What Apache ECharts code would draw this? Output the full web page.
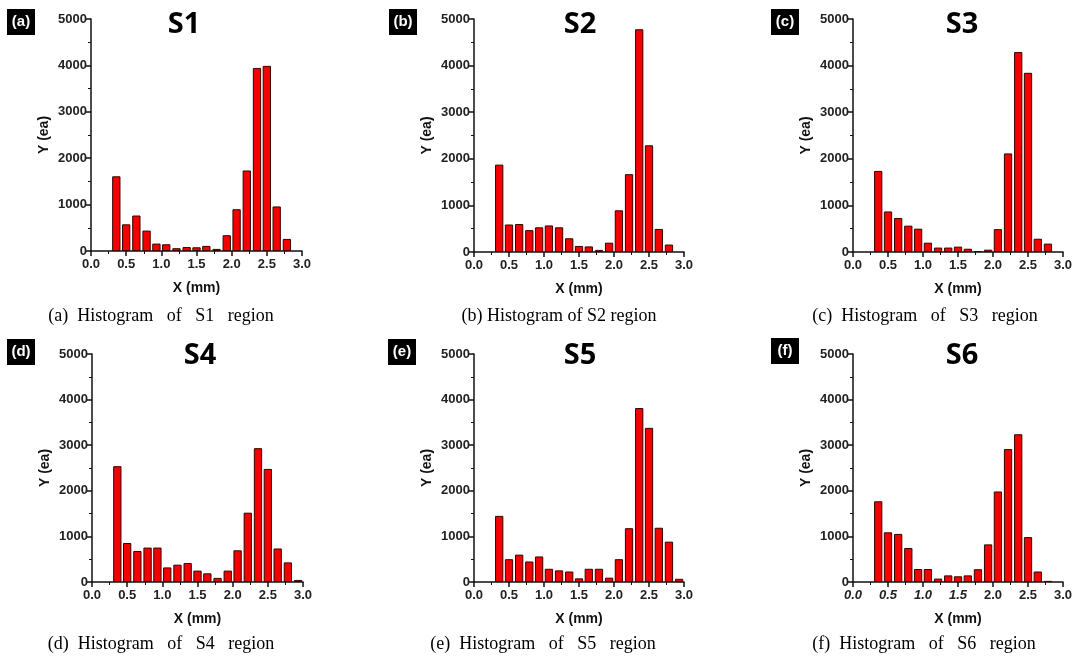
<!DOCTYPE html>
<html>
<head>
<meta charset="utf-8">
<script src="https://cdn.jsdelivr.net/npm/echarts@6/dist/echarts.min.js"></script>
<style>
html,body{margin:0;padding:0;background:#fff;}
#chart{width:1079px;height:661px;}
</style>
</head>
<body>
<div id="chart"></div>
<script>
// ---- data ----
const binCenters = [0.36, 0.50, 0.645, 0.79, 0.93, 1.07, 1.215, 1.36, 1.50, 1.64, 1.785, 1.93, 2.07, 2.215, 2.36, 2.50, 2.64, 2.785, 2.93];
const s1 = [1610, 575, 765, 440, 160, 145, 60, 85, 80, 110, 45, 340, 900, 1735, 3945, 3990, 960, 260];
const s2 = [1875, 590, 600, 470, 530, 570, 530, 295, 130, 120, 45, 200, 895, 1670, 4780, 2290, 495, 160];
const s3 = [1740, 870, 730, 565, 500, 200, 95, 95, 115, 70, 20, 50, 490, 2115, 4290, 3845, 285, 180];
const s4 = [2540, 855, 680, 755, 755, 320, 380, 415, 250, 190, 90, 250, 695, 1520, 2935, 2480, 735, 430, 45];
const s5 = [1450, 500, 600, 450, 560, 290, 255, 230, 80, 290, 290, 95, 500, 1180, 3815, 3380, 1190, 885, 70];
const s6 = [1770, 1090, 1055, 745, 285, 285, 75, 145, 125, 145, 280, 825, 1985, 2915, 3240, 985, 230, 25];
const seriesValues = [s1, s2, s3, s4, s5, s6];
const panelTags = ['(a)', '(b)', '(c)', '(d)', '(e)', '(f)'];
const panelTitles = ['S1', 'S2', 'S3', 'S4', 'S5', 'S6'];
const captions = [
  '(a)  Histogram   of   S1   region',
  '(b) Histogram of S2 region',
  '(c)  Histogram   of   S3   region',
  '(d)  Histogram   of   S4   region',
  '(e)  Histogram   of   S5   region',
  '(f)  Histogram   of   S6   region'
];
const xTicks = { min: 0, max: 3, interval: 0.5 };
const yTicks = { min: 0, max: 5000, interval: 1000 };
const xAxisName = 'X (mm)';
const yAxisName = 'Y (ea)';

// ---- layout ----
const grids = [
  { left: 91, top: 19, width: 211, height: 232 },
  { left: 474, top: 19, width: 210, height: 233 },
  { left: 853, top: 19, width: 210, height: 233 },
  { left: 92, top: 354, width: 211, height: 228 },
  { left: 474, top: 354, width: 210, height: 228 },
  { left: 853, top: 354, width: 210, height: 228 }
];
const tagBoxes = [[7, 9], [389, 9], [771, 9], [7, 339], [388, 339], [771, 338]];
const titlePos = [[184, 25], [580, 25], [962, 25], [200, 356], [580, 356], [962, 356]];
const captionPos = [[161, 316], [559, 316], [925, 316], [161, 644], [543, 644], [924, 644]];

const sans = '"Liberation Sans", Arial, sans-serif';
const axisColor = '#111';

const option = {
  backgroundColor: '#fff',
  animation: false,
  grid: grids.map(g => Object.assign({ containLabel: false }, g)),
  xAxis: grids.map((g, i) => ({
    type: 'value', gridIndex: i,
    min: xTicks.min, max: xTicks.max, interval: xTicks.interval,
    name: xAxisName, nameLocation: 'middle', nameGap: 30,
    nameTextStyle: { fontFamily: sans, fontWeight: 'bold', fontSize: 14, color: '#111' },
    axisLine: { show: true, onZero: false, lineStyle: { color: axisColor, width: 1.5 } },
    axisTick: { show: true, inside: false, length: 5, lineStyle: { color: axisColor, width: 1.5 } },
    minorTick: { show: true, splitNumber: 2, length: 3, lineStyle: { color: axisColor, width: 1 } },
    splitLine: { show: false },
    axisLabel: {
      margin: 7, fontFamily: sans, fontWeight: 'bold', fontSize: 13, color: '#222',
      formatter: i === 5
        ? (v => (v < 2 ? '{it|' + v.toFixed(1) + '}' : v.toFixed(1)))
        : (v => v.toFixed(1)),
      rich: { it: { fontStyle: 'italic', fontFamily: sans, fontWeight: 'bold', fontSize: 13, color: '#222' } }
    }
  })),
  yAxis: grids.map((g, i) => ({
    type: 'value', gridIndex: i,
    min: yTicks.min, max: yTicks.max, interval: yTicks.interval,
    name: yAxisName, nameLocation: 'middle', nameGap: 40, nameRotate: 90,
    nameTextStyle: { fontFamily: sans, fontWeight: 'bold', fontSize: 14, color: '#111' },
    axisLine: { show: true, lineStyle: { color: axisColor, width: 1.5 } },
    axisTick: { show: true, inside: false, length: 5, lineStyle: { color: axisColor, width: 1.5 } },
    minorTick: { show: true, splitNumber: 2, length: 3, lineStyle: { color: axisColor, width: 1 } },
    splitLine: { show: false },
    axisLabel: {
      margin: 4, fontFamily: sans, fontWeight: 'bold', fontSize: 13, color: '#222',
      formatter: v => String(Math.round(v))
    }
  })),
  series: seriesValues.map((vals, i) => ({
    type: 'bar', xAxisIndex: i, yAxisIndex: i,
    barWidth: 8.3,
    data: vals.map((v, j) => [binCenters[j], v]),
    itemStyle: { color: '#f50000', borderColor: '#3a0000', borderWidth: 1 }
  })),
  graphic: []
};

panelTags.forEach((t, i) => {
  const [bx, by] = tagBoxes[i];
  option.graphic.push({
    type: 'rect', left: bx, top: by, shape: { width: 28, height: 26 },
    style: { fill: '#000' }
  });
  option.graphic.push({
    type: 'text', x: bx + 14, y: by + 13,
    style: { text: t, fill: '#fff', font: 'bold 15px ' + sans, textAlign: 'center', textVerticalAlign: 'middle' }
  });
});
panelTitles.forEach((t, i) => {
  const [tx, ty] = titlePos[i];
  option.graphic.push({
    type: 'text', x: tx, y: ty,
    style: { text: t, fill: '#000', font: 'bold 29px "Noto Sans", "Open Sans", sans-serif', textAlign: 'center', textVerticalAlign: 'middle' }
  });
});
captions.forEach((t, i) => {
  const [cx, cy] = captionPos[i];
  option.graphic.push({
    type: 'text', x: cx, y: cy,
    style: { text: t, fill: '#000', font: '18px "Liberation Serif", "Times New Roman", serif', textAlign: 'center', textVerticalAlign: 'middle' }
  });
});

const chart = echarts.init(document.getElementById('chart'), null, { renderer: 'canvas' });
chart.setOption(option);
</script>
</body>
</html>
